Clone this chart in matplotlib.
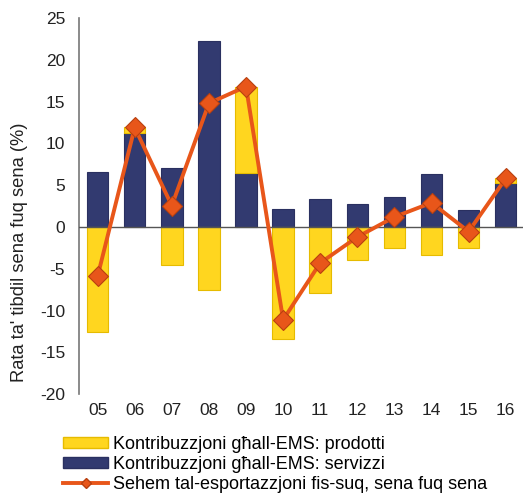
import matplotlib
matplotlib.use("Agg")
import matplotlib.pyplot as plt
import numpy as np
from matplotlib.lines import Line2D
from matplotlib.patches import Patch

years = ["05", "06", "07", "08", "09", "10", "11", "12", "13", "14", "15", "16"]
services = [6.6, 11.2, 7.0, 22.3, 6.5, 2.2, 3.4, 2.8, 3.6, 6.3, 2.0, 5.3]
goods = [-12.5, 0.7, -4.6, -7.5, 10.3, -13.4, -7.9, -3.9, -2.5, -3.35, -2.5, 0.5]
total = [-5.9, 11.9, 2.55, 14.8, 16.8, -11.1, -4.3, -1.2, 1.2, 2.9, -0.55, 5.8]
yticks = [-20, -15, -10, -5, 0, 5, 10, 15, 20, 25]

labels = ["Kontribuzzjoni għall-EMS: prodotti",
          "Kontribuzzjoni għall-EMS: servizzi",
          "Sehem tal-esportazzjoni fis-suq, sena fuq sena"]

plt.rcParams['font.family'] = ['Liberation Sans', 'DejaVu Sans']

NAVY = "#323a70"
NAVY_E = "#2a3060"
YEL = "#ffd61f"
YEL_E = "#e6bb00"
ORG = "#e8561a"
ORG_E = "#b84010"

fig = plt.figure(figsize=(5.27, 4.99), dpi=100)
ax = fig.add_axes([0.150, 0.210, 0.842, 0.754])

x = np.arange(len(years))
svc = np.array(services)
gd = np.array(goods)
bottom_g = np.where(gd > 0, svc, 0)
w = 0.58
ax.bar(x, svc, width=w, color=NAVY, edgecolor=NAVY_E, linewidth=0.8, zorder=2)
ax.bar(x, gd, width=w, bottom=bottom_g, color=YEL, edgecolor=YEL_E, linewidth=0.8, zorder=2)
ax.axhline(0, color="#555555", linewidth=1.0, zorder=3)
ax.plot(x, total, color=ORG, linewidth=2.8, marker="D", markersize=10,
        markerfacecolor=ORG, markeredgecolor=ORG_E, markeredgewidth=0.8, zorder=4)

ax.set_xlim(-0.5, 11.46)
ax.set_ylim(-20, 25)
ax.set_yticks(yticks)
ax.set_yticklabels([str(v) for v in yticks])
ax.set_xticks(x)
ax.set_xticklabels(years)
ax.tick_params(axis="both", length=0, labelsize=12.5, colors="#222222", pad=6)
ax.tick_params(axis="y", pad=10)
for s in ["top", "right", "bottom"]:
    ax.spines[s].set_visible(False)
ax.spines["left"].set_color("#777777")
ax.spines["left"].set_linewidth(1.2)
fig.text(0.037, 0.495, "Rata ta' tibdil sena fuq sena (%)", rotation=90,
         ha="center", va="center", fontsize=13.2, color="#222222")

handles = [Patch(facecolor=YEL, edgecolor=YEL_E),
           Patch(facecolor=NAVY, edgecolor=NAVY_E),
           Line2D([0], [0], color=ORG, linewidth=2.8, marker="D", markersize=5,
                  markerfacecolor=ORG, markeredgecolor=ORG_E)]
fig.legend(handles, labels, loc="upper left", bbox_to_anchor=(0.12, 0.126),
           frameon=False, fontsize=13, handlelength=2.5, handleheight=0.55,
           handletextpad=0.28, labelspacing=0.16, borderpad=0, borderaxespad=0)

fig.savefig("out.png", dpi=100)
